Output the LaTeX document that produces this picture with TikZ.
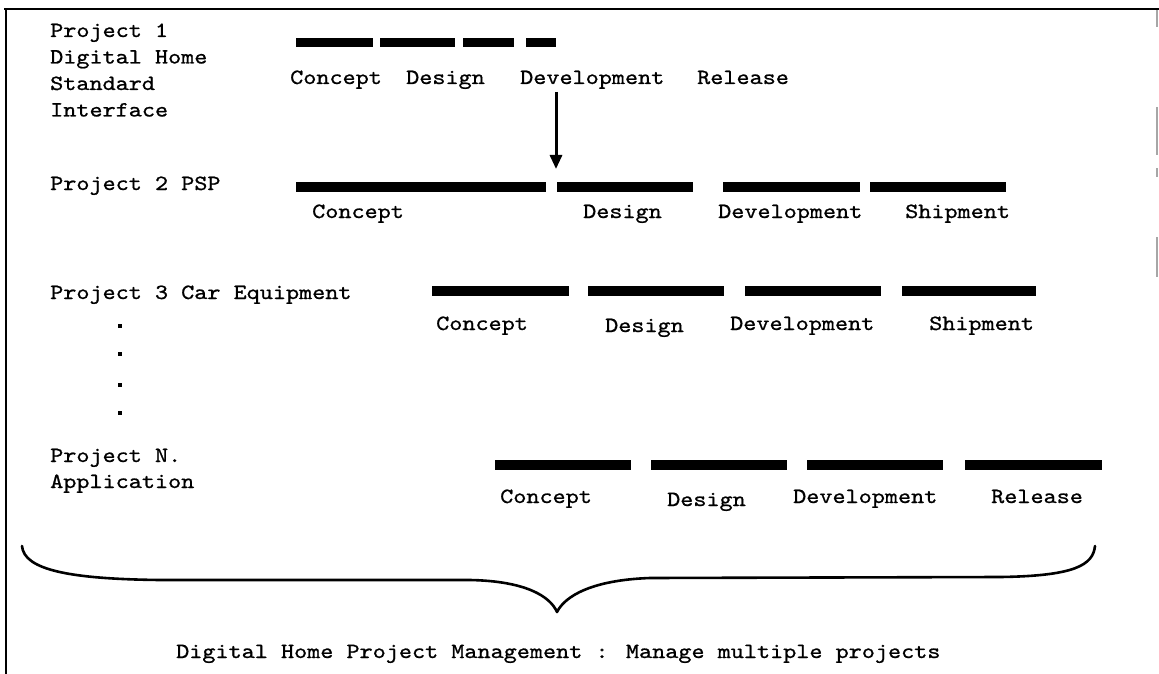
\documentclass[tikz,border=0pt]{standalone}
\usepackage{fontspec}
\newfontfamily\courfont{lmmono10-regular.otf}[FakeStretch=1.15,FakeBold=0.9]
\usetikzlibrary{arrows.meta}
\tikzset{
  txt/.style={anchor=base west, inner sep=0pt, font=\courfont\fontsize{21.7}{26.5}\selectfont},
  phasebar/.style={fill=black, draw=none},
  conn/.style={line width=3pt, -{Triangle[length=14pt,width=12pt]}},
  bracepath/.style={line width=2.6pt, line cap=round, line join=round},
  frameline/.style={line width=2.2pt},
  scanmark/.style={line width=1.2pt, draw=black!35},
  dotmark/.style={fill=black, draw=none}
}
\begin{document}
\begin{tikzpicture}[x=1pt,y=-1pt]
\useasboundingbox (0,0) rectangle (1159,674);
% frame
\draw[frameline] (4,9) -- (1159,9);
\draw[frameline] (6,9) -- (6,674);
\draw[scanmark] (1157,10) -- (1157,27);
\draw[scanmark] (1157,107) -- (1157,155);
\draw[scanmark] (1157,168) -- (1157,177);
\draw[scanmark] (1157,237) -- (1157,277);

% Project 1
\node[txt] (p1a) at (50,37) {Project 1};
\node[txt] (p1b) at (50,63.5) {Digital Home};
\node[txt] (p1c) at (50,90) {Standard};
\node[txt] (p1d) at (50,116.5) {Interface};
\fill[phasebar] (296,38) rectangle (373,47);
\fill[phasebar] (380,38) rectangle (455,47);
\fill[phasebar] (463,38) rectangle (514,47);
\fill[phasebar] (526,38) rectangle (556,47);
\node[txt] (c1) at (290,84) {Concept};
\node[txt] (d1) at (406,84) {Design};
\node[txt] (v1) at (520,84) {Development};
\node[txt] (r1) at (697,84) {Release};

% arrow
\coordinate (arrS) at (556,92);
\coordinate (arrE) at (556,169);
\draw[conn] (arrS) -- (arrE);

% Project 2
\node[txt] (p2) at (50,190) {Project 2 PSP};
\fill[phasebar] (296,182) rectangle (546,192);
\fill[phasebar] (557,182) rectangle (693,192);
\fill[phasebar] (723,182) rectangle (860,192);
\fill[phasebar] (870,182) rectangle (1006,192);
\node[txt] (c2) at (312,218) {Concept};
\node[txt] (d2) at (583,218) {Design};
\node[txt] (v2) at (718,218) {Development};
\node[txt] (s2) at (905,218) {Shipment};

% Project 3
\node[txt] (p3) at (50,299) {Project 3 Car Equipment};
\fill[phasebar] (432,286) rectangle (569,296);
\fill[phasebar] (588,286) rectangle (724,296);
\fill[phasebar] (745,286) rectangle (881,296);
\fill[phasebar] (902,286) rectangle (1036,296);
\node[txt] (c3) at (436,330) {Concept};
\node[txt] (d3) at (605,332) {Design};
\node[txt] (v3) at (730,330) {Development};
\node[txt] (s3) at (929,330) {Shipment};

% vertical dots
\fill[dotmark] (118,324) rectangle (122,328);
\fill[dotmark] (118,352) rectangle (122,356);
\fill[dotmark] (118,383) rectangle (122,387);
\fill[dotmark] (118,411) rectangle (122,415);

% Project N
\node[txt] (pna) at (50,462) {Project N.};
\node[txt] (pnb) at (50,488) {Application};
\fill[phasebar] (495,460) rectangle (631,470);
\fill[phasebar] (651,460) rectangle (787,470);
\fill[phasebar] (807,460) rectangle (943,470);
\fill[phasebar] (965,460) rectangle (1102,470);
\node[txt] (cn) at (500,503) {Concept};
\node[txt] (dn) at (667,506) {Design};
\node[txt] (vn) at (793,503) {Development};
\node[txt] (rn) at (991,503) {Release};

% brace
\draw[bracepath] (22,546) .. controls (24,570) and (70,579) .. (160,580)
  -- (470,580) .. controls (525,581) and (550,596) .. (557,612)
  .. controls (565,596) and (592,580) .. (650,578)
  -- (1000,577) .. controls (1075,576) and (1093,565) .. (1095,546);

\node[txt] (title) at (176,658) {Digital Home Project Management : Manage multiple projects};
\end{tikzpicture}
\end{document}
